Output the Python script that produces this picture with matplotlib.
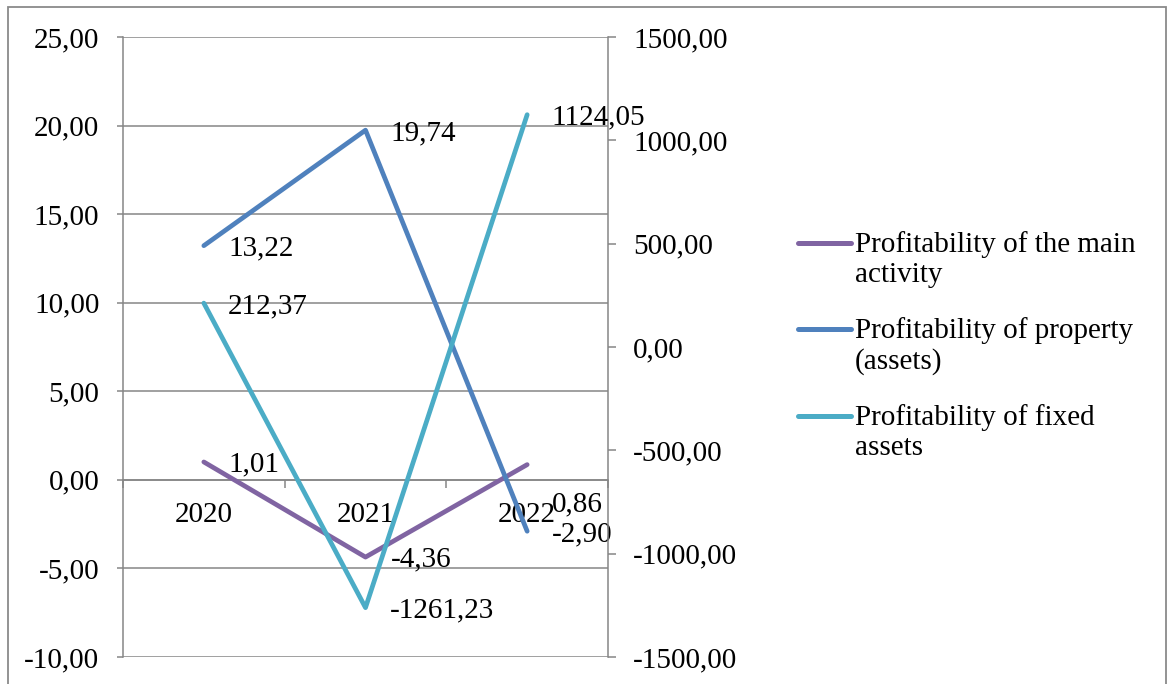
import matplotlib
matplotlib.use("Agg")
import matplotlib.pyplot as plt
from matplotlib.lines import Line2D
from matplotlib.patches import Rectangle
import matplotlib.ticker as ticker

years = ["2020", "2021", "2022"]
main_activity = [1.01, -4.36, 0.86]
property_assets = [13.22, 19.74, -2.90]
fixed_assets = [212.37, -1261.23, 1124.05]
series_names = ["Profitability of the main\nactivity",
                "Profitability of property\n(assets)",
                "Profitability of fixed\nassets"]

PURPLE = "#8064A2"
BLUE = "#4F81BD"
CYAN = "#4BACC6"
GRID = "#868686"
FS = 21
LW = 3.4


def comma(v):
    return f"{v:.2f}".replace(".", ",")


plt.rcParams["font.family"] = ["Liberation Serif", "DejaVu Serif"]

fig = plt.figure(figsize=(11.72, 6.84), dpi=100)
W, H = 1172, 684
ax = fig.add_axes([123 / W, 1 - 657 / H, (608 - 123) / W, (657 - 37) / H])
ax2 = ax.twinx()

x = list(range(len(years)))

ax.plot(x, main_activity, color=PURPLE, lw=LW, solid_capstyle="round", zorder=3)
ax.plot(x, property_assets, color=BLUE, lw=LW, solid_capstyle="round", zorder=3)
ax2.plot(x, fixed_assets, color=CYAN, lw=LW, solid_capstyle="round", zorder=3)

# left axis
ax.set_xlim(-0.5, 2.5)
ax.set_ylim(-10, 25)
ax.set_yticks(range(-10, 26, 5))
ax.yaxis.set_major_formatter(ticker.FuncFormatter(lambda v, p: comma(v)))
ax.grid(axis="y", color=GRID, lw=1.1)
ax.set_axisbelow(True)
ax.tick_params(axis="y", direction="out", length=4, width=1.1, color=GRID,
               pad=13, labelsize=FS)

# category axis sits on zero
ax.spines["bottom"].set_position(("data", 0))
ax.spines["bottom"].set_color(GRID)
ax.spines["bottom"].set_linewidth(1.1)
ax.set_xticks(x)
ax.set_xticklabels(years)
ax.set_xticks([-0.5, 0.5, 1.5, 2.5], minor=True)
ax.tick_params(axis="x", which="major", length=0, pad=16, labelsize=FS)
ax.tick_params(axis="x", which="minor", direction="out", length=6, width=1.1, color=GRID)
ax.spines["left"].set_color(GRID)
ax.spines["left"].set_linewidth(1.1)
for s in ("top", "right"):
    ax.spines[s].set_visible(False)

# right axis
ax2.set_ylim(-1500, 1500)
ax2.set_yticks(range(-1500, 1501, 500))
ax2.yaxis.set_major_formatter(ticker.FuncFormatter(lambda v, p: comma(v)))
ax2.tick_params(axis="y", direction="out", length=6, width=1.1, color=GRID,
                pad=12, labelsize=FS)
for s in ("top", "left", "bottom"):
    ax2.spines[s].set_visible(False)
ax2.spines["right"].set_color(GRID)
ax2.spines["right"].set_linewidth(1.1)

# data labels
label_style = dict(textcoords="offset pixels", ha="left", va="center", fontsize=FS)
for i, v in enumerate(main_activity):
    dy = -40 if i == 2 else -2
    ax.annotate(comma(v), (i, v), xytext=(25, dy), **label_style)
for i, v in enumerate(property_assets):
    ax.annotate(comma(v), (i, v), xytext=(25, -3), **label_style)
for i, v in enumerate(fixed_assets):
    ax2.annotate(comma(v), (i, v), xytext=(24, -3), **label_style)

# legend
colors = [PURPLE, BLUE, CYAN]
rows = [243, 329, 416]
for name, c, yl in zip(series_names, colors, rows):
    fig.add_artist(Line2D([798 / W, 851 / W], [1 - yl / H, 1 - yl / H],
                          color=c, lw=3.6, solid_capstyle="round"))
    fig.text(855 / W, 1 - (yl - 12) / H, name, fontsize=FS, ha="left", va="top",
             linespacing=1.22, transform=fig.transFigure)

fig.add_artist(Rectangle((8 / W, -0.02), (1166 - 8) / W, 1.02 - 7 / H,
                         transform=fig.transFigure, fill=False,
                         edgecolor="#8a8a8a", lw=1.3))

fig.savefig("out.png", dpi=100)
